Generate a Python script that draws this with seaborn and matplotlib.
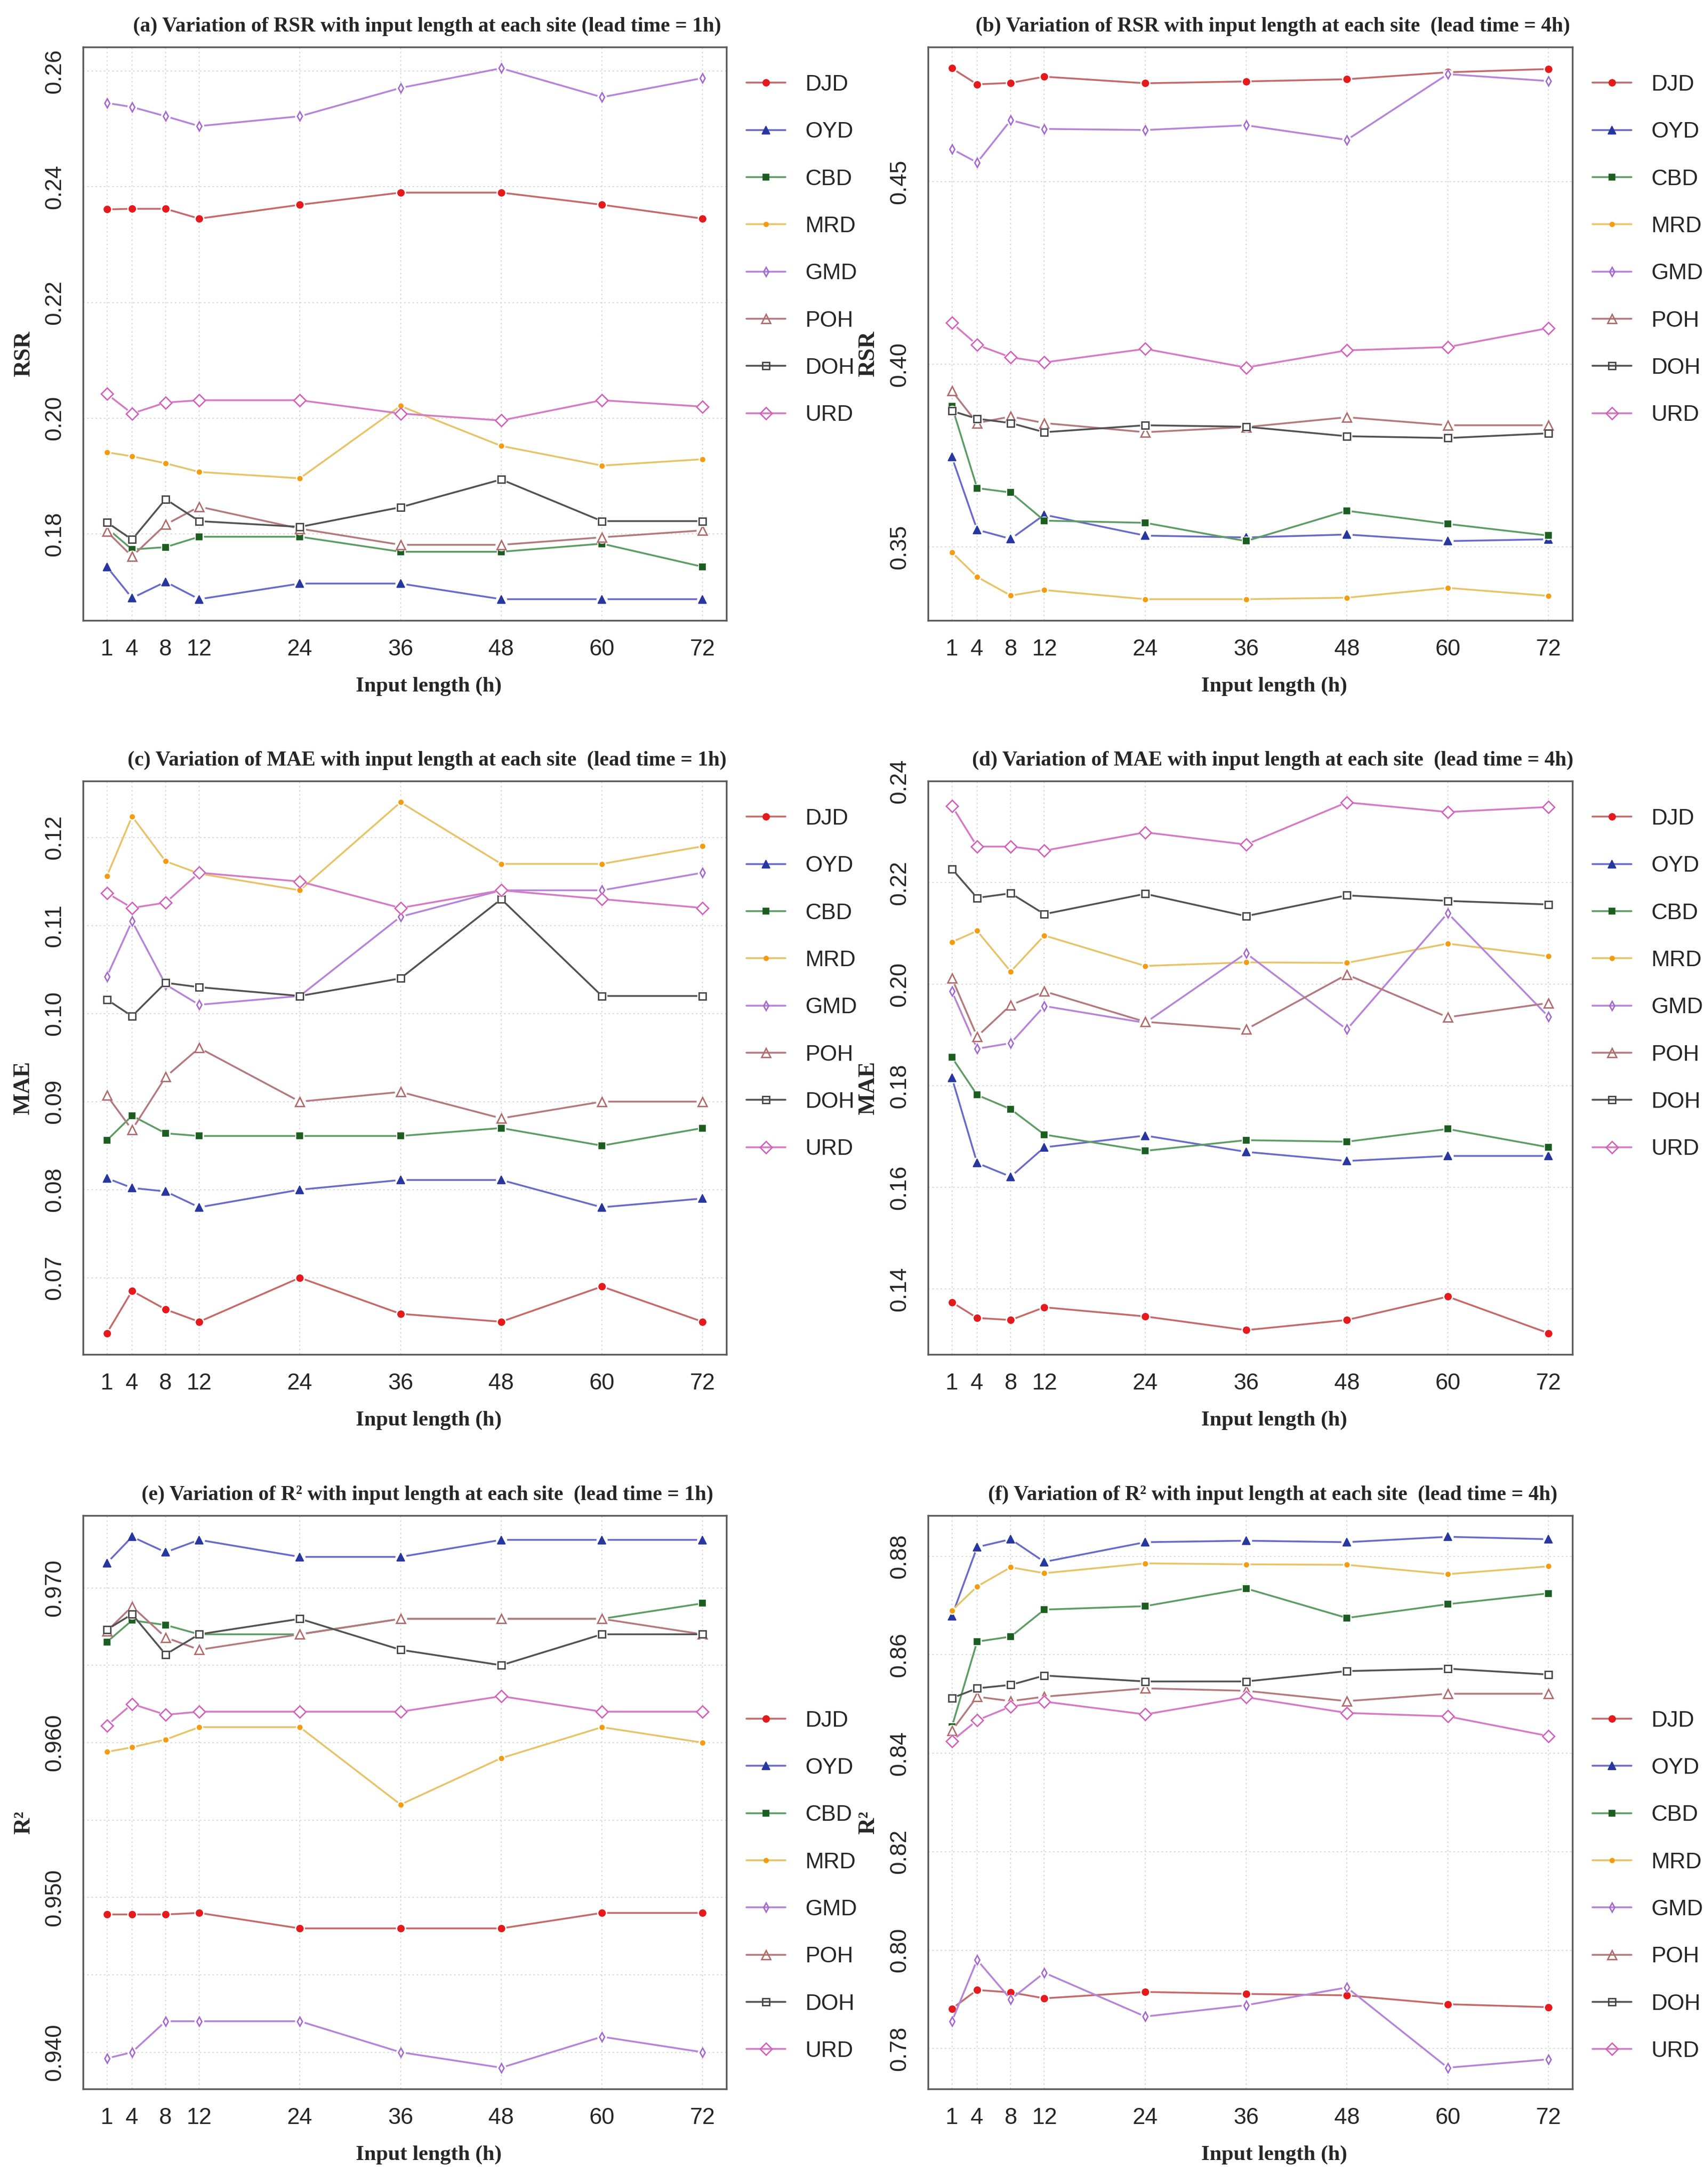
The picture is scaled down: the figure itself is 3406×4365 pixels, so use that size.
import numpy as np
import pandas as pd
import matplotlib
matplotlib.use("Agg")
import matplotlib.pyplot as plt
from matplotlib.lines import Line2D
import seaborn as sns

# Input lengths (h) on the x axis and the eight sites
INPUT_LENGTHS = [1, 4, 8, 12, 24, 36, 48, 60, 72]
SITES = ["DJD", "OYD", "CBD", "MRD", "GMD", "POH", "DOH", "URD"]

# (a) RSR, lead time = 1h
rsr_1h = {
    "DJD": [0.2361, 0.2362, 0.2362, 0.2345, 0.2369, 0.2390, 0.2390, 0.2369, 0.2345],
    "OYD": [0.1743, 0.1689, 0.1717, 0.1687, 0.1714, 0.1714, 0.1687, 0.1687, 0.1687],
    "CBD": [0.1810, 0.1773, 0.1777, 0.1795, 0.1795, 0.1769, 0.1769, 0.1783, 0.1743],
    "MRD": [0.1941, 0.1934, 0.1922, 0.1907, 0.1896, 0.2021, 0.1952, 0.1918, 0.1929],
    "GMD": [0.2545, 0.2538, 0.2522, 0.2505, 0.2522, 0.2571, 0.2605, 0.2555, 0.2588],
    "POH": [0.1804, 0.1761, 0.1816, 0.1847, 0.1809, 0.1781, 0.1781, 0.1794, 0.1806],
    "DOH": [0.1820, 0.1790, 0.1860, 0.1822, 0.1812, 0.1846, 0.1894, 0.1822, 0.1822],
    "URD": [0.2042, 0.2008, 0.2027, 0.2031, 0.2031, 0.2008, 0.1996, 0.2031, 0.2020],
}

# (b) RSR, lead time = 4h
rsr_4h = {
    "DJD": [0.4810, 0.4766, 0.4770, 0.4787, 0.4769, 0.4774, 0.4780, 0.4799, 0.4808],
    "OYD": [0.3746, 0.3547, 0.3522, 0.3588, 0.3531, 0.3526, 0.3534, 0.3516, 0.3521],
    "CBD": [0.3885, 0.3661, 0.3649, 0.3572, 0.3566, 0.3516, 0.3599, 0.3563, 0.3531],
    "MRD": [0.3485, 0.3418, 0.3367, 0.3382, 0.3357, 0.3357, 0.3361, 0.3388, 0.3366],
    "GMD": [0.4589, 0.4552, 0.4668, 0.4644, 0.4641, 0.4654, 0.4614, 0.4794, 0.4775],
    "POH": [0.3927, 0.3839, 0.3857, 0.3839, 0.3814, 0.3828, 0.3855, 0.3833, 0.3833],
    "DOH": [0.3872, 0.3851, 0.3839, 0.3814, 0.3833, 0.3829, 0.3803, 0.3798, 0.3811],
    "URD": [0.4113, 0.4053, 0.4019, 0.4005, 0.4042, 0.3991, 0.4038, 0.4047, 0.4099],
}

# (c) MAE, lead time = 1h
mae_1h = {
    "DJD": [0.0637, 0.0685, 0.0664, 0.0650, 0.0700, 0.0659, 0.0650, 0.0690, 0.0650],
    "OYD": [0.0813, 0.0802, 0.0798, 0.0780, 0.0800, 0.0811, 0.0811, 0.0780, 0.0790],
    "CBD": [0.0856, 0.0884, 0.0864, 0.0861, 0.0861, 0.0861, 0.0870, 0.0850, 0.0870],
    "MRD": [0.1156, 0.1224, 0.1173, 0.1159, 0.1140, 0.1240, 0.1170, 0.1170, 0.1190],
    "GMD": [0.1042, 0.1105, 0.1033, 0.1010, 0.1020, 0.1110, 0.1140, 0.1140, 0.1160],
    "POH": [0.0907, 0.0868, 0.0928, 0.0961, 0.0900, 0.0911, 0.0881, 0.0900, 0.0900],
    "DOH": [0.1016, 0.0997, 0.1035, 0.1030, 0.1020, 0.1040, 0.1130, 0.1020, 0.1020],
    "URD": [0.1137, 0.1120, 0.1126, 0.1160, 0.1150, 0.1120, 0.1140, 0.1130, 0.1120],
}

# (d) MAE, lead time = 4h
mae_4h = {
    "DJD": [0.1374, 0.1343, 0.1339, 0.1364, 0.1346, 0.1319, 0.1339, 0.1385, 0.1313],
    "OYD": [0.1816, 0.1648, 0.1621, 0.1679, 0.1702, 0.1670, 0.1652, 0.1662, 0.1662],
    "CBD": [0.1856, 0.1782, 0.1754, 0.1704, 0.1672, 0.1693, 0.1690, 0.1715, 0.1679],
    "MRD": [0.2083, 0.2105, 0.2025, 0.2096, 0.2036, 0.2043, 0.2042, 0.2080, 0.2055],
    "GMD": [0.1986, 0.1873, 0.1884, 0.1957, 0.1924, 0.2061, 0.1911, 0.2140, 0.1936],
    "POH": [0.2012, 0.1897, 0.1959, 0.1986, 0.1926, 0.1911, 0.2019, 0.1935, 0.1963],
    "DOH": [0.2227, 0.2170, 0.2179, 0.2138, 0.2178, 0.2134, 0.2175, 0.2164, 0.2157],
    "URD": [0.2351, 0.2271, 0.2271, 0.2263, 0.2299, 0.2275, 0.2358, 0.2339, 0.2349],
}

# (e) R2, lead time = 1h
r2_1h = {
    "DJD": [0.9489, 0.9489, 0.9489, 0.9490, 0.9480, 0.9480, 0.9480, 0.9490, 0.9490],
    "OYD": [0.9716, 0.9733, 0.9723, 0.9731, 0.9720, 0.9720, 0.9731, 0.9731, 0.9731],
    "CBD": [0.9665, 0.9679, 0.9676, 0.9670, 0.9670, 0.9680, 0.9680, 0.9680, 0.9690],
    "MRD": [0.9594, 0.9597, 0.9602, 0.9610, 0.9610, 0.9560, 0.9590, 0.9610, 0.9600],
    "GMD": [0.9396, 0.9400, 0.9420, 0.9420, 0.9420, 0.9400, 0.9390, 0.9410, 0.9400],
    "POH": [0.9672, 0.9688, 0.9668, 0.9660, 0.9670, 0.9680, 0.9680, 0.9680, 0.9670],
    "DOH": [0.9673, 0.9683, 0.9657, 0.9670, 0.9680, 0.9660, 0.9650, 0.9670, 0.9670],
    "URD": [0.9611, 0.9625, 0.9618, 0.9620, 0.9620, 0.9620, 0.9630, 0.9620, 0.9620],
}

# (f) R2, lead time = 4h
r2_4h = {
    "DJD": [0.7881, 0.7919, 0.7914, 0.7902, 0.7915, 0.7911, 0.7908, 0.7890, 0.7884],
    "OYD": [0.8679, 0.8819, 0.8835, 0.8789, 0.8829, 0.8832, 0.8829, 0.8840, 0.8835],
    "CBD": [0.8454, 0.8627, 0.8637, 0.8692, 0.8699, 0.8735, 0.8675, 0.8703, 0.8725],
    "MRD": [0.8690, 0.8739, 0.8778, 0.8766, 0.8786, 0.8784, 0.8783, 0.8764, 0.8780],
    "GMD": [0.7855, 0.7980, 0.7900, 0.7954, 0.7865, 0.7888, 0.7924, 0.7761, 0.7778],
    "POH": [0.8446, 0.8515, 0.8506, 0.8515, 0.8532, 0.8527, 0.8506, 0.8521, 0.8521],
    "DOH": [0.8512, 0.8532, 0.8539, 0.8558, 0.8546, 0.8546, 0.8567, 0.8572, 0.8560],
    "URD": [0.8425, 0.8467, 0.8495, 0.8505, 0.8479, 0.8514, 0.8482, 0.8475, 0.8435],
}

# Styles (R type="b" look: muted line, saturated point, small gap round each point)
LINE_COLORS = {"DJD": "#C46A6A", "OYD": "#6A6AC8", "CBD": "#5E9C66", "MRD": "#E6C46A",
               "GMD": "#B585D8", "POH": "#B27A80", "DOH": "#525252", "URD": "#D47CC4"}
POINT_COLORS = {"DJD": "#E41A1C", "OYD": "#27379E", "CBD": "#1B5E20", "MRD": "#F39C12",
                "GMD": "#A468CC", "POH": "#B06A6A", "DOH": "#444444", "URD": "#D062B8"}
MARKERS = {"DJD": "o", "OYD": "^", "CBD": "s", "MRD": "o",
           "GMD": "d", "POH": "^", "DOH": "s", "URD": "D"}
MARKER_SIZES = {"DJD": 9.5, "OYD": 11, "CBD": 8.5, "MRD": 6.5,
                "GMD": 9, "POH": 12.5, "DOH": 10.5, "URD": 12.5}
FILLED = {"DJD": True, "OYD": True, "CBD": True, "MRD": True,
          "GMD": False, "POH": False, "DOH": False, "URD": False}

SANS = ["Liberation Sans Narrow", "Liberation Sans", "DejaVu Sans"]
SERIF = ["Liberation Serif", "DejaVu Serif"]
FRAME = "#5A5A5A"
LINE_W = 2.6

sns.set_style("white")
plt.rcParams["font.family"] = SANS


def marker_kws(site):
    face = POINT_COLORS[site] if FILLED[site] else "none"
    return dict(marker=MARKERS[site], markersize=MARKER_SIZES[site],
                markerfacecolor=face, markeredgecolor=POINT_COLORS[site],
                markeredgewidth=1.2 if FILLED[site] else 2.0)


def draw_panel(ax, values, title, ylabel, yticks, yticklabels, legend_y):
    df = pd.DataFrame({
        "site": np.repeat(SITES, len(INPUT_LENGTHS)),
        "input": INPUT_LENGTHS * len(SITES),
        "value": np.concatenate([values[s] for s in SITES]),
    })

    # light dotted grid like R's grid()
    for xv in INPUT_LENGTHS:
        ax.axvline(xv, color="#D9D9D9", lw=1.5, ls=(0, (1.5, 2.5)), zorder=0)
    for yv in yticks:
        ax.axhline(yv, color="#D9D9D9", lw=1.5, ls=(0, (1.5, 2.5)), zorder=0)

    for site in SITES:
        sub = df[df["site"] == site]
        # the line
        sns.lineplot(data=sub, x="input", y="value", ax=ax, color=LINE_COLORS[site],
                     lw=LINE_W, estimator=None, errorbar=None, legend=False)
        # white halo gives the small gap R leaves round each point
        ax.plot(sub["input"], sub["value"], ls="none", marker="o",
                markersize=MARKER_SIZES[site] + 5, markerfacecolor="white",
                markeredgecolor="none")
        # the points
        sns.lineplot(data=sub, x="input", y="value", ax=ax, color=POINT_COLORS[site],
                     linestyle="none", estimator=None, errorbar=None, legend=False,
                     **marker_kws(site))

    # R default axis padding (4 %)
    xr = max(INPUT_LENGTHS) - min(INPUT_LENGTHS)
    ax.set_xlim(min(INPUT_LENGTHS) - 0.04 * xr, max(INPUT_LENGTHS) + 0.04 * xr)
    lo, hi = df["value"].min(), df["value"].max()
    ax.set_ylim(lo - 0.04 * (hi - lo), hi + 0.04 * (hi - lo))

    ax.set_xticks(INPUT_LENGTHS)
    ax.set_xticklabels([str(v) for v in INPUT_LENGTHS])
    ax.set_yticks(yticks)
    ax.set_yticklabels(yticklabels, rotation=90, va="center")
    ax.tick_params(axis="x", direction="out", length=14, width=2, color=FRAME,
                   pad=12, labelsize=33)
    ax.tick_params(axis="y", direction="out", length=11, width=2, color=FRAME,
                   pad=14, labelsize=33)
    for sp in ax.spines.values():
        sp.set_color(FRAME)
        sp.set_linewidth(2.5)

    ax.text(0.535, 1.036, title, transform=ax.transAxes, ha="center", va="center",
            fontsize=30, fontweight="bold", family=SERIF)
    ax.set_xlabel("Input length (h)", fontsize=31, fontweight="bold", family=SERIF)
    ax.xaxis.set_label_coords(0.537, -0.115)
    ax.xaxis.label.set_va("center")
    ax.set_ylabel(ylabel, fontsize=33, fontweight="bold", family=SERIF)
    ax.yaxis.set_label_coords(-0.092, 0.465)
    ax.yaxis.label.set_va("center")

    handles = [Line2D([], [], color=LINE_COLORS[s], lw=LINE_W, **marker_kws(s)) for s in SITES]
    ax.legend(handles, SITES, loc="upper left", bbox_to_anchor=(1.031, legend_y),
              borderaxespad=0, borderpad=0, frameon=False, fontsize=32,
              handlelength=1.75, handletextpad=0.9, labelspacing=1.2)


fig = plt.figure(figsize=(34.06, 43.65), dpi=100)
W, H = 3406.0, 4365.0
col_left = [166 / W, 1855 / W]
col_width = [1286 / W, 1288 / W]
row_bottom = [1 - 1240 / H, 1 - 2707 / H, 1 - 4175 / H]
ax_h = 1146 / H

panels = [
    (rsr_1h, "(a) Variation of RSR with input length at each site (lead time = 1h)", "RSR",
     [0.18, 0.20, 0.22, 0.24, 0.26], ["0.18", "0.20", "0.22", "0.24", "0.26"], 0.952),
    (rsr_4h, "(b) Variation of RSR with input length at each site  (lead time = 4h)", "RSR",
     [0.35, 0.40, 0.45], ["0.35", "0.40", "0.45"], 0.952),
    (mae_1h, "(c) Variation of MAE with input length at each site  (lead time = 1h)", "MAE",
     [0.07, 0.08, 0.09, 0.10, 0.11, 0.12], ["0.07", "0.08", "0.09", "0.10", "0.11", "0.12"], 0.952),
    (mae_4h, "(d) Variation of MAE with input length at each site  (lead time = 4h)", "MAE",
     [0.14, 0.16, 0.18, 0.20, 0.22, 0.24], ["0.14", "0.16", "0.18", "0.20", "0.22", "0.24"], 0.952),
    (r2_1h, "(e) Variation of R² with input length at each site  (lead time = 1h)", "R²",
     [0.940, 0.945, 0.950, 0.955, 0.960, 0.965, 0.970],
     ["0.940", "", "0.950", "", "0.960", "", "0.970"], 0.66),
    (r2_4h, "(f) Variation of R² with input length at each site  (lead time = 4h)", "R²",
     [0.78, 0.80, 0.82, 0.84, 0.86, 0.88], ["0.78", "0.80", "0.82", "0.84", "0.86", "0.88"], 0.66),
]

for i, (vals, title, ylab, yt, ytl, leg_y) in enumerate(panels):
    row, col = divmod(i, 2)
    ax = fig.add_axes([col_left[col], row_bottom[row], col_width[col], ax_h])
    draw_panel(ax, vals, title, ylab, yt, ytl, leg_y)

fig.savefig("out.png", dpi=100, facecolor="white")
